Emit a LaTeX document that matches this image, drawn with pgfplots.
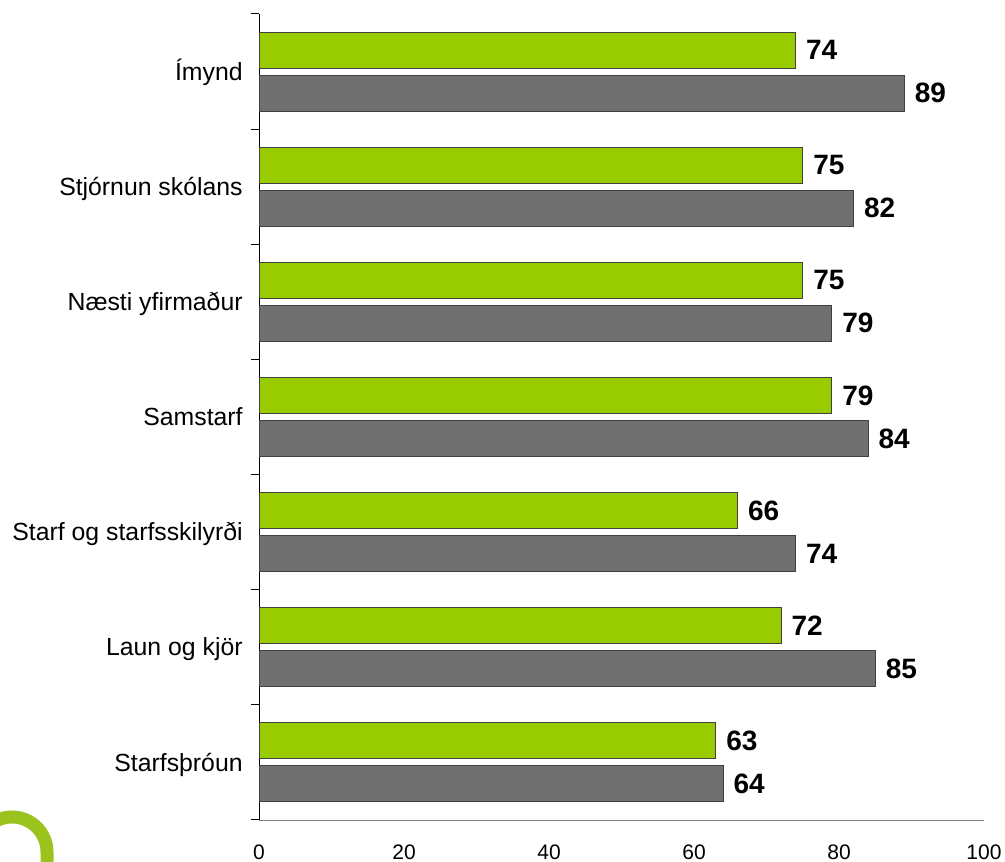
\documentclass[border=0pt]{standalone}
\usepackage{fontspec}
\setmainfont{Liberation Sans}
\usepackage{pgfplots}
\pgfplotsset{compat=1.18}
\definecolor{barGreen}{RGB}{153,204,0}
\definecolor{barGray}{RGB}{112,112,112}
\definecolor{logoGreen}{RGB}{155,195,30}
\begin{document}
\begin{tikzpicture}[x=0.5pt,y=0.5pt]
\begin{axis}[
  at={(129.5pt,20.5pt)}, anchor=south west,
  scale only axis, width=362.5pt, height=403pt,
  xbar, bar width=18pt,
  xmin=0, xmax=100, ymin=-0.5, ymax=6.5,
  axis lines=left, axis line style={-},
  x axis line style={draw=gray},
  y axis line style={draw=black},
  xtick={0,20,...,100},
  ytick={0,...,6},
  yticklabels={Starfsþróun, Laun og kjör, Starf og starfsskilyrði, Samstarf, Næsti yfirmaður, Stjórnun skólans, Ímynd},
  minor ytick={-0.5,0.5,...,6.5},
  tick align=outside, major tick length=0pt, minor tick length=4pt,
  minor tick style={black, line width=0.5pt},
  /pgf/number format/assume math mode=true,
  xticklabel style={font=\fontsize{10.5}{12}\selectfont, anchor=north, inner sep=0pt, yshift=-12pt},
  yticklabel style={font=\fontsize{12.4}{14}\selectfont, anchor=base east, inner sep=0pt, xshift=-8pt, yshift=-4.3pt},
  point meta=x,
  nodes near coords, nodes near coords align={horizontal},
  every node near coord/.append style={font=\bfseries\fontsize{14}{16}\selectfont, anchor=west, inner sep=0pt, xshift=5pt, black},
  clip=false,
]
\addplot[fill=barGreen, draw=black!75, line width=0.5pt, bar shift=10.75pt] coordinates {
  (63,0) (72,1) (66,2) (79,3) (75,4) (75,5) (74,6)
};
\addplot[fill=barGray, draw=black!75, line width=0.5pt, bar shift=-10.75pt] coordinates {
  (64,0) (85,1) (74,2) (84,3) (79,4) (82,5) (89,6)
};
\end{axis}
\begin{scope}
\clip (0,0) rectangle (1005,861);
\draw[logoGreen, line width=6.5pt] (-23,9) arc[start angle=180, end angle=0, radius=17.5pt] -- (47,-10);
\end{scope}
\pgfresetboundingbox
\path[use as bounding box] (0,0) rectangle (1005,861);
\end{tikzpicture}
\end{document}
